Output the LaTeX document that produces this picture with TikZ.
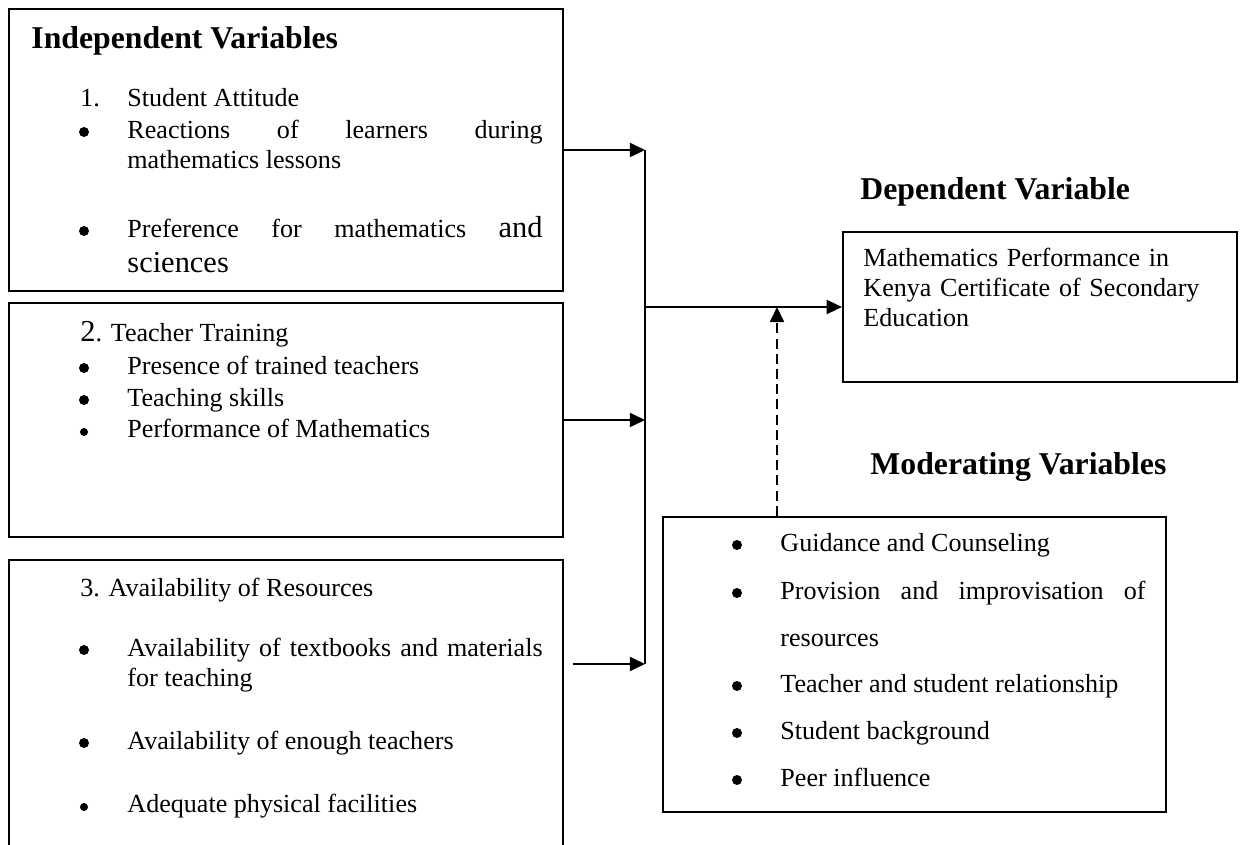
\documentclass[tikz,border=0pt]{standalone}
\usepackage{fontspec}
\setmainfont{Liberation Serif}
\usetikzlibrary{arrows.meta}
\usetikzlibrary{fit}
\hyphenpenalty=10000
\newcommand{\lgtxt}[1]{{\fontsize{14}{16}\selectfont #1}}

\begin{document}
\begin{tikzpicture}[x=0.46pt,y=-0.46pt,
    box/.style={draw, line width=1pt, inner sep=0pt},
    txt/.style={anchor=base west, inner sep=0pt, font=\fontsize{12}{13.8}\selectfont},
    justified/.style={txt, text width=#1, align=justify},
    head/.style={anchor=base west, inner sep=0pt, font=\fontsize{14.6}{17}\selectfont\bfseries},
    dot/.style={circle, fill, inner sep=0pt, minimum size=4.6pt},
    smalldot/.style={dot, minimum size=3.7pt},
    link/.style={line width=0.9pt, -{Triangle[length=7pt,width=6.5pt]}}]
    \useasboundingbox (0,0) rectangle (1241,845);
    \clip (0,0) rectangle (1241,845);

    % Boxes:
    \node [box, fit={(9,9) (563,291)}]    (indep1) {};
    \node [box, fit={(9,303) (563,537)}]  (indep2) {};
    \node [box, fit={(9,560) (563,880)}]  (indep3) {};
    \node [box, fit={(843,232) (1237,382)}] (dep) {};
    \node [box, fit={(663,517) (1166,812)}] (mod) {};

    % Headings:
    \node [head] (indeptitle) at (31,49)  {Independent Variables};
    \node [head] (deptitle)   at (860,200) {Dependent Variable};
    \node [head] (modtitle)   at (870,475) {Moderating Variables};

    % 1. Student attitude
    \node [txt] (num1) at (80,107) {1.};
    \node [txt] (attitude) at (127,107) {Student Attitude};
    \node [justified=191pt] (reactions) at (127,139) {Reactions of learners during\linebreak mathematics lessons};
    \node [justified=191pt, font=\fontsize{12}{16}\selectfont] (preference) at (127,238)
        {Preference for mathematics \lgtxt{and}\linebreak \lgtxt{sciences}};

    % 2. Teacher training
    \node [txt] (num2) at (80,342) {\lgtxt{2}. Teacher Training};
    \node [txt] (trained) at (127,375) {Presence of trained teachers};
    \node [txt] (skills) at (127,407) {Teaching skills};
    \node [txt] (performance) at (127,438) {Performance of Mathematics};

    % 3. Resources
    \node [txt] (num3) at (80,597) {3. Availability of Resources};
    \node [justified=191pt] (textbooks) at (127,657) {Availability of textbooks and materials\linebreak for teaching};
    \node [txt] (enough) at (127,750) {Availability of enough teachers};
    \node [txt] (facilities) at (127,813) {Adequate physical facilities};

    % Outcome
    \node [txt, text width=170pt, align=left] (kcse) at (863,267)
        {Mathematics Performance in\\Kenya Certificate of Secondary\\Education};

    % Moderators
    \node [txt] (guidance) at (780,552) {Guidance and Counseling};
    \node [justified=168pt, font=\fontsize{12}{21.6}\selectfont] (provision) at (780,600)
        {Provision and improvisation of\linebreak resources};
    \node [txt] (relationship) at (780,693) {Teacher and student relationship};
    \node [txt] (background) at (780,740) {Student background};
    \node [txt] (peer) at (780,787) {Peer influence};

    % Bullets
    \foreach \n/\x/\y in {a/84/132, b/84/231, c/84/368, d/84/400, f/84/650, g/84/743,
                          m1/737/545, m2/737/593, m3/737/686, m4/737/733, m5/737/780}
        \node [dot] (bul-\n) at (\x,\y) {};
    \foreach \n/\y in {e/432, h/807}
        \node [smalldot] (bul-\n) at (84,\y) {};

    % Connectors:
    \coordinate (j1) at (645,150);
    \coordinate (j2) at (645,420);
    \coordinate (j3) at (645,664);
    \coordinate (j0) at (645,307);
    \coordinate (m0) at (777,307);

    \draw [link] (indep1.east |- j1) -- (j1);
    \draw [link] (indep2.east |- j2) -- (j2);
    \draw [link] ([xshift=4pt]indep3.east |- j3) -- (j3);
    \draw [line width=0.9pt] (j1) -- (j3);
    \draw [link] (j0) -- (dep.west |- j0);
    \draw [link, dash pattern=on 4.6pt off 2.4pt] (mod.north -| m0) -- (m0);
\end{tikzpicture}
\end{document}
